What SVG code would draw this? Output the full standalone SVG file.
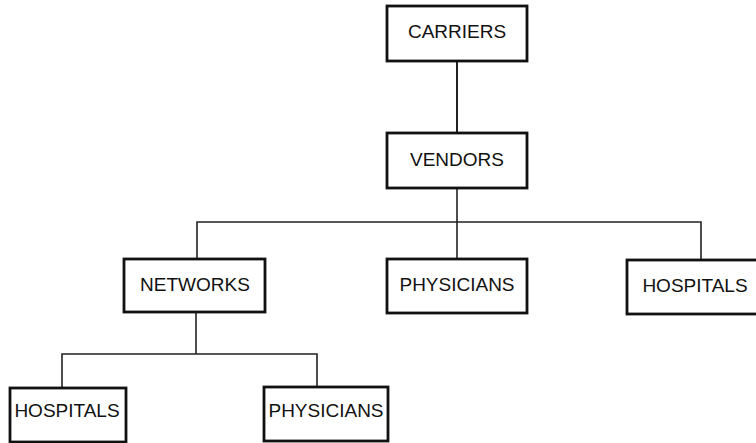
<svg xmlns="http://www.w3.org/2000/svg" width="756" height="443" viewBox="0 0 756 443">
<style>
.box{fill:#fff;stroke:#111;stroke-width:2.8}
.lbl{font-family:"Liberation Sans",Arial,sans-serif;font-size:19px;fill:#111;text-anchor:middle}
.con{fill:none;stroke:#222;stroke-width:1.6}
</style>
<rect width="756" height="443" fill="#fff"/>
<g id="connectors">
<line class="con" x1="457" y1="61" x2="457" y2="133" style="stroke-width:2"/>
<line class="con" x1="457" y1="188" x2="457" y2="259"/>
<polyline class="con" points="197,259 197,222 701,222 701,260"/>
<line class="con" x1="196" y1="312" x2="196" y2="354"/>
<polyline class="con" points="62,388 62,354 317,354 317,387"/>
</g>
<g id="carriers"><rect class="box" x="387" y="6" width="140" height="55"/><text class="lbl" x="457" y="38">CARRIERS</text></g>
<g id="vendors"><rect class="box" x="387" y="133" width="140" height="55"/><text class="lbl" x="457" y="166">VENDORS</text></g>
<g id="networks"><rect class="box" x="124" y="259" width="141" height="53"/><text class="lbl" x="195" y="291">NETWORKS</text></g>
<g id="physicians1"><rect class="box" x="387" y="259" width="140" height="54"/><text class="lbl" x="457" y="291">PHYSICIANS</text></g>
<g id="hospitals1"><rect class="box" x="627" y="260" width="136" height="54"/><text class="lbl" x="695" y="292">HOSPITALS</text></g>
<g id="hospitals2"><rect class="box" x="10" y="388" width="116" height="54"/><text class="lbl" x="67" y="417">HOSPITALS</text></g>
<g id="physicians2"><rect class="box" x="264" y="387" width="124" height="54"/><text class="lbl" x="326" y="417">PHYSICIANS</text></g>
</svg>
